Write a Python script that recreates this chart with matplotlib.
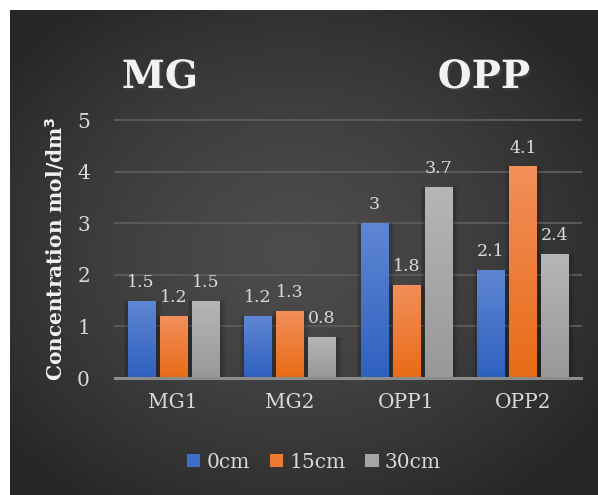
import numpy as np
import matplotlib
matplotlib.use("Agg")
import matplotlib.pyplot as plt
from matplotlib.patches import Rectangle
import matplotlib.patheffects as pe

categories = ["MG1", "MG2", "OPP1", "OPP2"]
series_names = ["0cm", "15cm", "30cm"]
vals_0cm = [1.5, 1.2, 3.0, 2.1]
vals_15cm = [1.2, 1.3, 1.8, 4.1]
vals_30cm = [1.5, 0.8, 3.7, 2.4]
y_ticks = [0, 1, 2, 3, 4, 5]

series = [vals_0cm, vals_15cm, vals_30cm]
# (top colour, bottom colour) for each series gradient
grad_colors = [("#5f86d3", "#2e61bf"), ("#f28f5a", "#e86b17"), ("#b6b6b6", "#989898")]
legend_colors = ["#3d6fca", "#ed7a31", "#a5a5a5"]

serif = ["DejaVu Serif"]
txt_col = "#d9d9d9"

fig = plt.figure(figsize=(5.98, 4.95), dpi=100)
fig.patch.set_facecolor("white")

# dark radial background panel
bg = fig.add_axes([10 / 598, 0, 1 - 10 / 598, 1 - 10 / 495])
bg.set_axis_off()
h, w = 485, 588
yy, xx = np.mgrid[0:h, 0:w]
cx, cy = w * 0.48, h * 0.5
r = np.sqrt(((xx - cx) / (w * 0.62)) ** 2 + ((yy - cy) / (h * 0.62)) ** 2)
r = np.clip(r, 0, 1)
light, dark = 0x4c / 255, 0x27 / 255
shade = light + (dark - light) * r ** 1.4
bg.imshow(np.dstack([shade, shade, shade]), aspect="auto", extent=[0, 1, 0, 1], zorder=0)
bg.set_xlim(0, 1)
bg.set_ylim(0, 1)

ax = fig.add_axes([115 / 598, 1 - 378 / 495, (581 - 115) / 598, (378 - 120) / 495])
ax.set_facecolor("none")
ax.set_xlim(-0.5, len(categories) - 0.5)
ax.set_ylim(0, 5)

for s in ax.spines.values():
    s.set_visible(False)
ax.axhline(0, color="#8c8c8c", lw=2.2, zorder=5, clip_on=False)
for t in y_ticks[1:]:
    ax.axhline(t, color="#595959", lw=1.5, zorder=1, clip_on=False)

ax.set_yticks(y_ticks)
ax.set_yticklabels([str(t) for t in y_ticks], fontsize=14.5, color=txt_col, family=serif)
ax.set_xticks(range(len(categories)))
ax.set_xticklabels(categories, fontsize=14.5, color=txt_col, family=serif)
ax.tick_params(axis="both", length=0)
ax.tick_params(axis="y", pad=18)
ax.tick_params(axis="x", pad=11)

bar_w = 0.232
step = 0.275
x = np.arange(len(categories))

def gradient_bar(xc, height, top, bottom):
    x0 = xc - bar_w / 2
    # soft side shadow
    for k, a in [(0.06, 0.08), (0.035, 0.12)]:
        ax.add_patch(Rectangle((x0 - k * 0.6, 0), bar_w + k * 1.6, height,
                               facecolor="black", alpha=a, lw=0, zorder=2))
    rect = Rectangle((x0, 0), bar_w, height, facecolor="none", lw=0, zorder=3)
    ax.add_patch(rect)
    c_top = np.array(matplotlib.colors.to_rgb(top))
    c_bot = np.array(matplotlib.colors.to_rgb(bottom))
    t = np.linspace(0, 1, 64)[:, None]
    img = (c_top * (1 - t) + c_bot * t)[:, None, :]
    im = ax.imshow(img, aspect="auto", extent=[x0, x0 + bar_w, 0, height],
                   zorder=3, interpolation="bilinear")
    im.set_clip_path(rect)

for i, vals in enumerate(series):
    for j, v in enumerate(vals):
        xc = x[j] + (i - 1) * step
        gradient_bar(xc, v, *grad_colors[i])
        label = f"{v:g}"
        ax.annotate(label, (xc, v), xytext=(0, 7), textcoords="offset points",
                    ha="center", va="bottom", fontsize=12.5, color=txt_col,
                    family=serif, zorder=6)

ax.set_xlim(-0.5, len(categories) - 0.5)
ax.set_ylim(0, 5)

ax.set_ylabel("Concentration mol/dm$^\\mathbf{3}$", fontsize=14.5, color="#f2f2f2",
              family=serif, fontweight="bold", labelpad=7)

title_fx = [pe.SimplePatchShadow(offset=(1.5, -1.5), alpha=0.5), pe.Normal()]
fig.text(160 / 598, 1 - 77 / 495, "MG", fontsize=28, fontweight="bold", color="#f2f2f2",
         family=serif, ha="center", va="center", path_effects=title_fx)
fig.text(484 / 598, 1 - 77 / 495, "OPP", fontsize=28, fontweight="bold", color="#f2f2f2",
         family=serif, ha="center", va="center", path_effects=title_fx)

handles = [Rectangle((0, 0), 1, 1, facecolor=c, lw=0) for c in legend_colors]
leg = fig.legend(handles, series_names, loc="center", bbox_to_anchor=(314 / 598, 1 - 462 / 495),
                 ncol=3, frameon=False, handlelength=0.65, handleheight=0.65,
                 handletextpad=0.3, columnspacing=1.0, prop={"family": serif, "size": 14.5})
for t in leg.get_texts():
    t.set_color(txt_col)

fig.savefig("out.png", dpi=100)
